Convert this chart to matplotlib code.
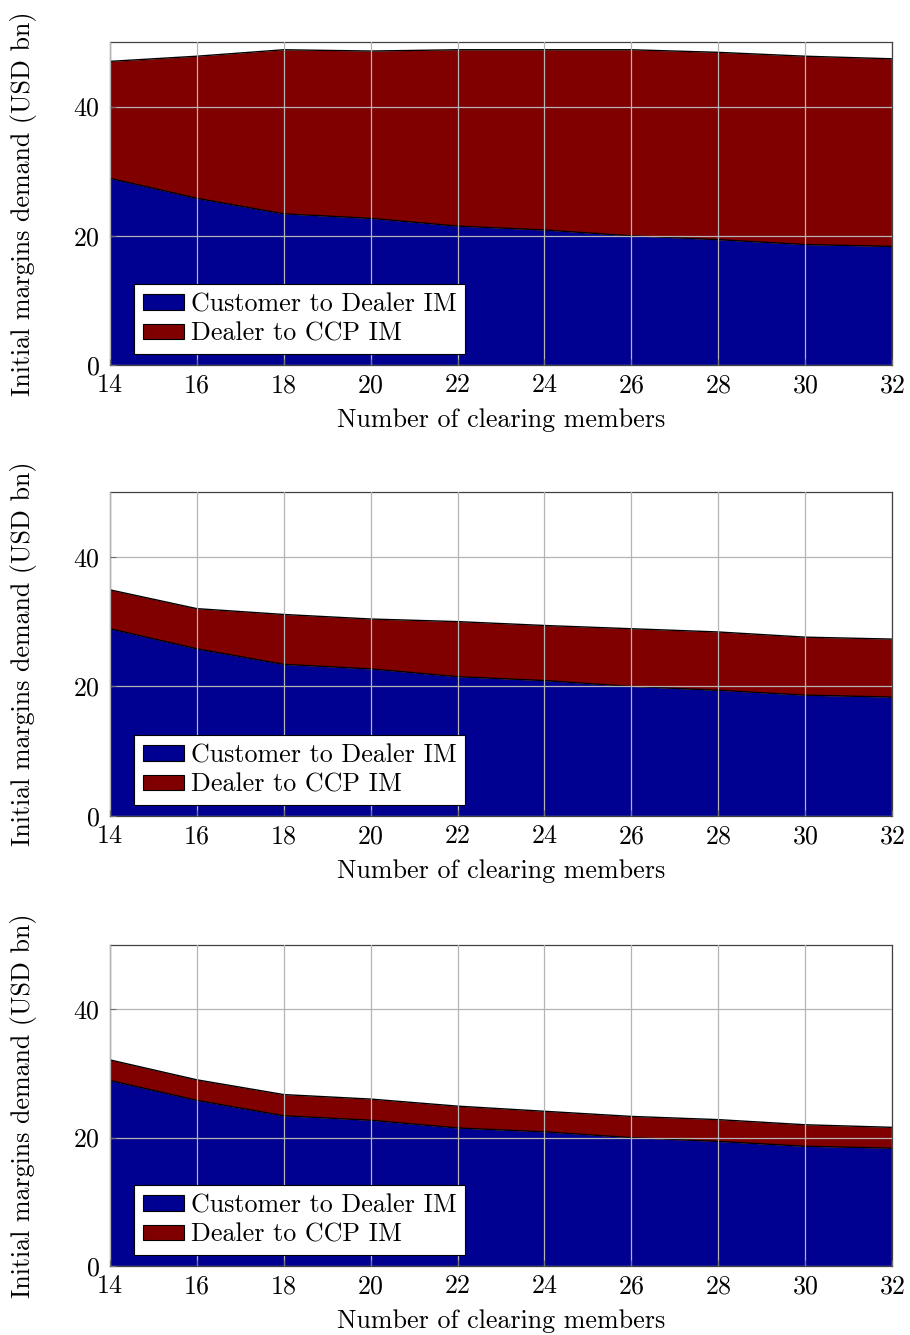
import matplotlib
matplotlib.use('Agg')
import matplotlib.pyplot as plt
import numpy as np

plt.rcParams['font.family'] = ['cmr10', 'DejaVu Serif']
plt.rcParams['axes.formatter.use_mathtext'] = True
plt.rcParams['mathtext.fontset'] = 'cm'

members = [14, 16, 18, 20, 22, 24, 26, 28, 30, 32]

# customer to dealer IM, same in every panel
customer_im = [28.9, 25.8, 23.4, 22.7, 21.5, 20.9, 20.0, 19.4, 18.65, 18.35]

# dealer to CCP IM, one series per panel
dealer_im_top = [18.1, 22.0, 25.4, 25.9, 27.3, 27.9, 28.8, 29.0, 29.15, 29.05]
dealer_im_mid = [6.0, 6.2, 7.7, 7.7, 8.5, 8.5, 8.9, 9.0, 8.95, 8.95]
dealer_im_bot = [3.2, 3.2, 3.3, 3.3, 3.4, 3.2, 3.3, 3.4, 3.35, 3.25]

xticks = [14, 16, 18, 20, 22, 24, 26, 28, 30, 32]
yticks = [0, 20, 40]

blue = '#000091'
red = '#800000'
fs = 18.7


def plotPanel(ax, x, low, high):
    x = np.array(x)
    low = np.array(low)
    top = low + np.array(high)
    ax.fill_between(x, 0, low, color=blue, lw=0, label='Customer to Dealer IM')
    ax.fill_between(x, low, top, color=red, lw=0, label='Dealer to CCP IM')
    ax.plot(x, low, color='black', lw=1.0)
    ax.plot(x, top, color='black', lw=1.0)
    ax.set_xlim(14, 32)
    ax.set_ylim(0, 50)
    ax.set_xticks(xticks)
    ax.set_yticks(yticks)
    ax.grid(True, color='#b4b4b4', lw=0.9)
    ax.set_axisbelow(False)
    ax.tick_params(direction='in', length=4, color='#707070', labelsize=fs)
    ax.tick_params(axis='x', pad=6)
    ax.tick_params(axis='y', pad=7)
    for s in ax.spines.values():
        s.set_color('#404040')
        s.set_linewidth(0.9)
    ax.set_xlabel('Number of clearing members', fontsize=fs)
    ax.set_ylabel('Initial margins demand (USD bn)', fontsize=fs)
    ax.xaxis.set_label_coords(0.5, -0.135)
    ax.yaxis.set_label_coords(-0.093, 0.5)
    leg = ax.legend(loc='lower left', bbox_to_anchor=(0.031, 0.034), fontsize=fs,
                    fancybox=False, framealpha=1, edgecolor='black',
                    handlelength=1.6, handleheight=0.55, handletextpad=0.25,
                    borderpad=0.32, labelspacing=0.22, borderaxespad=0)
    leg.get_frame().set_linewidth(0.8)
    for h in leg.legend_handles:
        h.set_edgecolor('black')
        h.set_linewidth(0.8)
    return


fig = plt.figure(figsize=(9.1, 13.35), dpi=100)
left = 110 / 910
width = 782 / 910
panels = [(42, 365, dealer_im_top), (492, 816, dealer_im_mid), (945, 1266, dealer_im_bot)]
for top_px, bot_px, dealer in panels:
    ax = fig.add_axes([left, 1 - bot_px / 1335, width, (bot_px - top_px) / 1335])
    plotPanel(ax, members, customer_im, dealer)

fig.savefig('out.png', dpi=100)
